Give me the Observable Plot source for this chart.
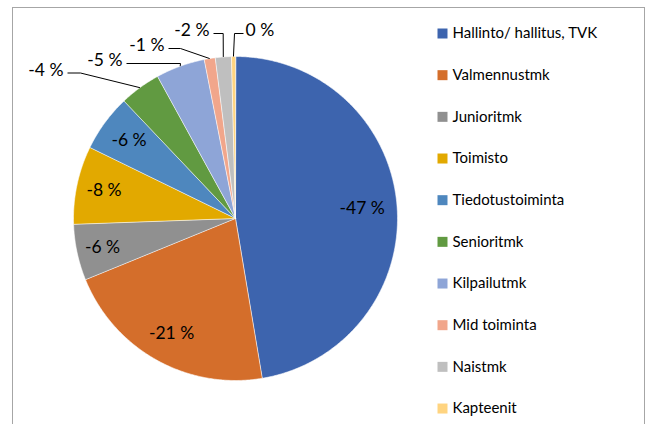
<!DOCTYPE html>
<html>
<head>
<meta charset="utf-8">
<script src="https://cdn.jsdelivr.net/npm/d3@7"></script>
<script src="https://cdn.jsdelivr.net/npm/@observablehq/plot@0.6"></script>
<style>
  html, body { margin: 0; padding: 0; background: #fff; }
  #wrap { position: relative; width: 648px; height: 424px; overflow: hidden; }
  #border { position: absolute; left: 12px; top: 7px; width: 633px; height: 440px; border: 1.5px solid #a6a6a6; box-sizing: border-box; }
  #chart { position: absolute; left: 0; top: 0; }
</style>
</head>
<body>
<div id="wrap"><div id="border"></div><div id="chart"></div></div>
<script>
// ---- data ----
const categories = ["Hallinto/ hallitus, TVK", "Valmennustmk", "Junioritmk", "Toimisto", "Tiedotustoiminta",
                    "Senioritmk", "Kilpailutmk", "Mid toiminta", "Naistmk", "Kapteenit"];
const values = [-47.4, -21.5, -5.6, -7.8, -5.7, -4.1, -4.9, -1.1, -1.6, -0.4];
const colors = ["#3d64ae", "#d46e2b", "#909090", "#e2a900", "#4e87be", "#619a41", "#8ea5d7", "#f1a68b", "#bfbfbf", "#ffd480"];
const labels = values.map(v => `${Math.round(v)} %`);

// ---- layout (pixels) ----
const W = 648, H = 424;
const cx = 235, cy = 218, R = 162;
const ux = px => (px - cx) / R;
const uy = py => (cy - py) / R;
const font = "Lato, 'Open Sans', sans-serif";

// pie geometry from values
const arcs = d3.pie().sort(null).value(d => Math.abs(d))(values);
const slicePts = [];
arcs.forEach((a, i) => {
  const name = categories[i];
  slicePts.push({name, x: 0, y: 0});
  const n = Math.max(2, Math.ceil((a.endAngle - a.startAngle) / 0.008));
  for (let k = 0; k <= n; k++) {
    const t = a.startAngle + (a.endAngle - a.startAngle) * k / n;
    slicePts.push({name, x: Math.sin(t), y: Math.cos(t)});
  }
});
const mid = a => (a.startAngle + a.endAngle) / 2;

// inside labels (first five slices)
const insideR = [0.785, 0.81, 0.84, 0.83, 0.815];
const inside = insideR.map((r, i) => ({
  label: labels[i], x: r * Math.sin(mid(arcs[i])), y: r * Math.cos(mid(arcs[i]))
}));

// outside labels with leader lines: line start x, line y, elbow x (pixels)
const outsideLayout = [
  {i: 5, lx: 67,  ly: 72.5, ex: 80,    anchor: "end"},
  {i: 6, lx: 126, ly: 63,   ex: 180,   anchor: "end"},
  {i: 7, lx: 168, ly: 48,   ex: 180,   anchor: "end"},
  {i: 8, lx: 213, ly: 33,   ex: 222.7, anchor: "end"},
  {i: 9, lx: 243, ly: 33,   ex: 234,   anchor: "start"}
];
const leaderPts = [];
const outside = [];
outsideLayout.forEach(o => {
  const a = mid(arcs[o.i]);
  leaderPts.push({k: o.i, x: ux(o.lx), y: uy(o.ly)});
  leaderPts.push({k: o.i, x: ux(o.ex), y: uy(o.ly)});
  leaderPts.push({k: o.i, x: Math.sin(a), y: Math.cos(a)});
  outside.push({
    label: labels[o.i],
    x: ux(o.anchor === "end" ? o.lx - 4 : o.lx + 2),
    y: uy(o.ly - 3),
    anchor: o.anchor
  });
});

// legend rows
const legend = categories.map((name, i) => ({name, y: uy(33 + i * 41.67)}));

const plot = Plot.plot({
  width: W, height: H,
  margin: 0,
  style: {fontFamily: font, background: "transparent", overflow: "visible"},
  x: {domain: [-1, 1], range: [cx - R, cx + R], axis: null},
  y: {domain: [-1, 1], range: [cy + R, cy - R], axis: null},
  color: {domain: categories, range: colors},
  marks: [
    Plot.line(slicePts, {x: "x", y: "y", z: "name", fill: "name", stroke: "#ffffff", strokeWidth: 0.7, strokeOpacity: 0.8, curve: "linear-closed"}),
    Plot.text(inside, {x: "x", y: "y", text: "label", fontSize: 17.5, fill: "#000", fontFamily: font}),
    Plot.line(leaderPts, {x: "x", y: "y", z: "k", stroke: "#000", strokeWidth: 1, strokeLinecap: "butt", strokeLinejoin: "miter"}),
    Plot.text(outside.filter(d => d.anchor === "end"), {x: "x", y: "y", text: "label", textAnchor: "end", fontSize: 17.5, fill: "#000", fontFamily: font}),
    Plot.text(outside.filter(d => d.anchor === "start"), {x: "x", y: "y", text: "label", textAnchor: "start", fontSize: 17.5, fill: "#000", fontFamily: font}),
    Plot.dot(legend, {x: ux(442), y: "y", symbol: "square", r: 10 / Math.sqrt(Math.PI), fill: "name", stroke: null}),
    Plot.text(legend, {x: ux(452), y: "y", text: "name", textAnchor: "start", fontSize: 15, fill: "#000", fontFamily: font})
  ]
});
document.getElementById("chart").appendChild(plot);
</script>
</body>
</html>
